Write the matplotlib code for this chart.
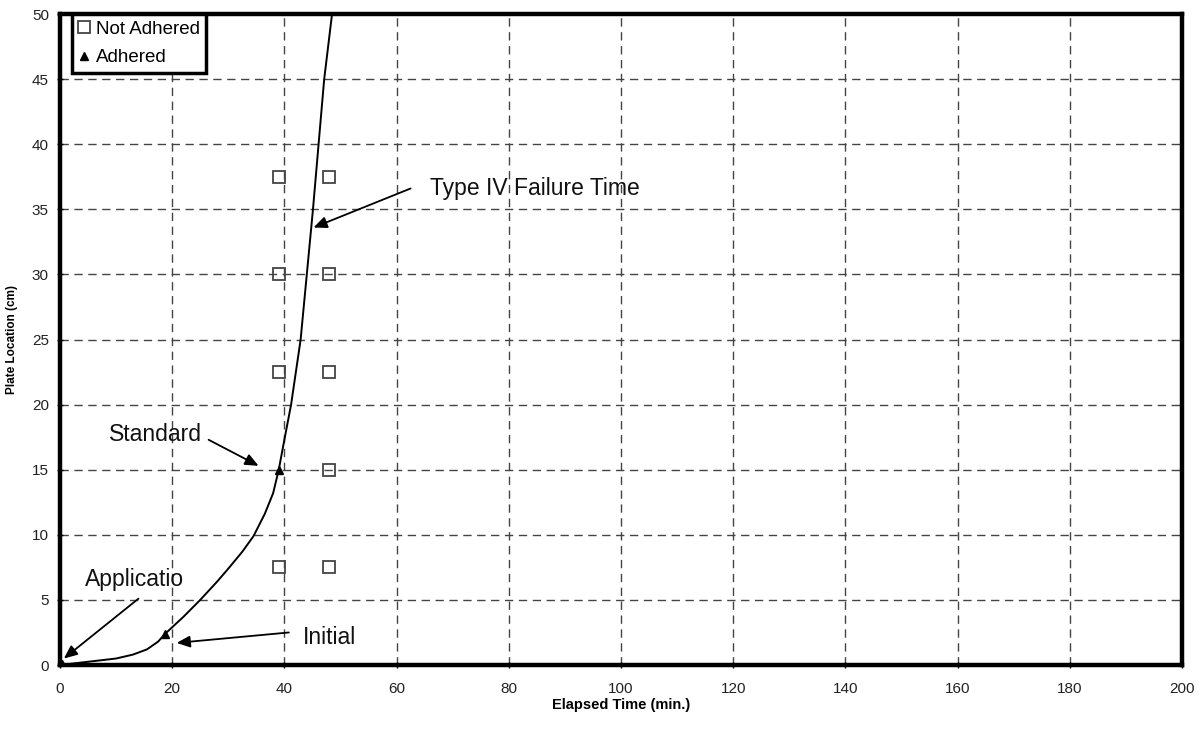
import matplotlib
matplotlib.use("Agg")
import matplotlib.pyplot as plt

plt.rcParams['font.family'] = ['Liberation Sans', 'DejaVu Sans']

# ---- data ----
curve_x = [0, 5, 10, 13, 15.5, 17.5, 18.75, 22, 25, 28, 30, 32.5, 34.5, 36.5, 38, 39,
           40, 41.2, 42.9, 44.0, 45.1, 46.1, 47.1, 48.5]
curve_y = [0, 0.25, 0.5, 0.8, 1.2, 1.8, 2.4, 3.7, 5, 6.4, 7.4, 8.7, 9.9, 11.6, 13.2, 15,
           17.3, 20, 25, 30, 35, 40, 45, 50]

not_adhered_x = [39, 48, 39, 48, 39, 48, 39, 48, 48]
not_adhered_y = [7.5, 7.5, 22.5, 22.5, 30, 30, 37.5, 37.5, 15]

adhered_x = [0.3, 18.75, 39]
adhered_y = [0.1, 2.4, 15]

x_ticks = [0, 20, 40, 60, 80, 100, 120, 140, 160, 180, 200]
y_ticks = [0, 5, 10, 15, 20, 25, 30, 35, 40, 45, 50]

# annotations: (text, text_xy, arrow_tail, arrow_head)
annotations = [
    ("Type IV Failure Time", (66, 36.6), (62.5, 36.6), (45.2, 33.6)),
    ("Standard", (8.8, 17.7), (26.5, 17.3), (35.4, 15.3)),
    ("Applicatio", (4.5, 6.6), (14.0, 5.1), (0.7, 0.5)),
    ("Initial", (43.3, 2.1), (40.8, 2.5), (20.8, 1.7)),
]

fig = plt.figure(figsize=(12.04, 7.30), dpi=100)
ax = fig.add_axes([0.0498, 0.089, 0.9319, 0.8918])

ax.set_xlim(0, 200)
ax.set_ylim(0, 50)
ax.set_xticks(x_ticks)
ax.set_yticks(y_ticks)
ax.tick_params(axis='x', labelsize=11, pad=10, length=4, width=1, direction='inout')
ax.tick_params(axis='y', labelsize=11, pad=6, length=4, width=1, direction='inout')
for lab in ax.get_xticklabels() + ax.get_yticklabels():
    lab.set_color('#222222')

ax.grid(True, color='#444444', linestyle=(0, (6, 4)), linewidth=1.0)
ax.set_axisbelow(True)

for s in ax.spines.values():
    s.set_linewidth(3.2)
    s.set_color('black')

ax.plot(curve_x, curve_y, color='black', linewidth=1.4, zorder=3)
ax.plot(not_adhered_x, not_adhered_y, linestyle='none', marker='s', markersize=9,
        markerfacecolor='none', markeredgecolor='#444444', markeredgewidth=1.3,
        label='Not Adhered', zorder=4)
ax.plot(adhered_x, adhered_y, linestyle='none', marker='^', markersize=6,
        color='black', label='Adhered', zorder=5)

for text, txy, tail, head in annotations:
    ax.text(txy[0], txy[1], text, fontsize=16.5, color='#111111', va='center', ha='left')
    ax.annotate('', xy=head, xytext=tail,
                arrowprops=dict(arrowstyle='-|>,head_length=0.8,head_width=0.35',
                                color='black', lw=1.3, shrinkA=0, shrinkB=0),
                zorder=6)

ax.set_xlabel('Elapsed Time (min.)', fontsize=10.5, fontweight='bold', labelpad=2)
ax.set_ylabel('Plate Location (cm)', fontsize=8.5, fontweight='bold', labelpad=10)

leg = ax.legend(loc='upper left', bbox_to_anchor=(0.011, 1.0), fontsize=13.5,
                frameon=True, fancybox=False, framealpha=1, edgecolor='black',
                handlelength=0.6, handletextpad=0.3, borderpad=0.35, labelspacing=0.6,
                borderaxespad=0.0)
leg.get_frame().set_linewidth(2.5)

fig.savefig('out.png', dpi=100)
